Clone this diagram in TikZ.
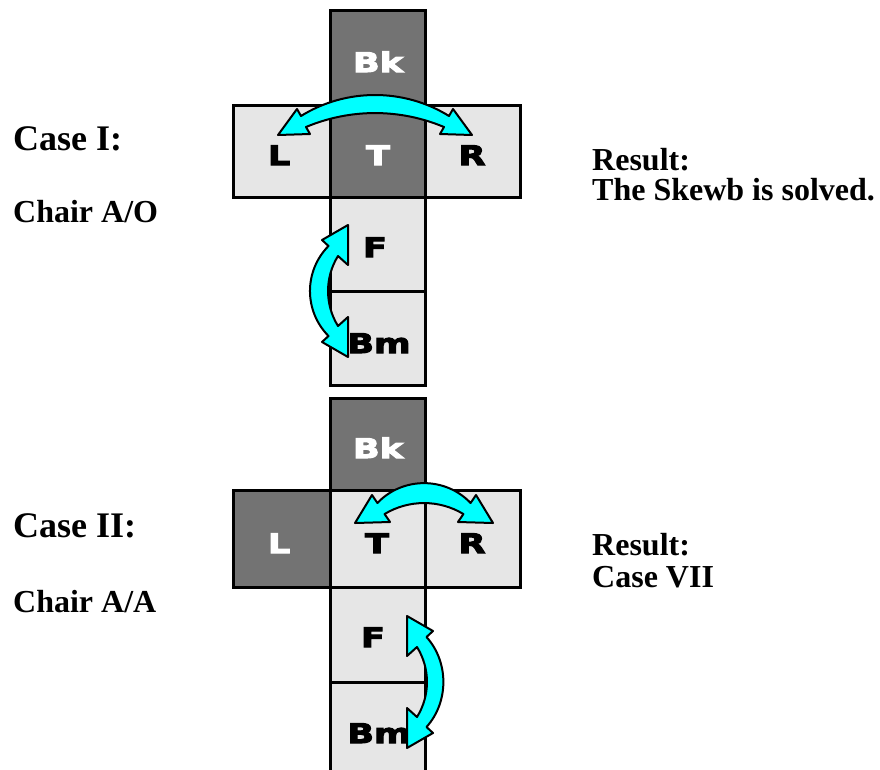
\documentclass[tikz,border=0pt]{standalone}
\usepackage{fontspec}
\setmainfont{Liberation Serif}
\newfontfamily\labfont{DejaVu Sans}[UprightFont={* Bold}, FakeStretch=1.3, FakeBold=4]
\definecolor{dk}{HTML}{737373}
\definecolor{lt}{HTML}{E6E6E6}
\definecolor{arrcyan}{HTML}{00FFFF}
\begin{document}
\begin{tikzpicture}[x=1pt,y=-1pt,
  cell/.style={rectangle, draw=black, line width=3pt, minimum width=95pt, inner sep=0pt, outer sep=0pt},
  darkcell/.style={cell, fill=dk},
  lightcell/.style={cell, fill=lt},
  labw/.style={font=\labfont\fontsize{27}{27}\selectfont, text=white, inner sep=0pt, anchor=base},
  labb/.style={labw, text=black},
  casetxt/.style={font=\bfseries\fontsize{36}{36}\selectfont, inner sep=0pt, anchor=base west},
  subtxt/.style={font=\bfseries\fontsize{32}{32}\selectfont, inner sep=0pt, anchor=base west},
  swaparrow/.style={fill=arrcyan, draw=black, line width=2pt, line join=round}
]
\useasboundingbox (0,0) rectangle (880,769);
\clip (0,0) rectangle (880,769);
\fill[white] (0,0) rectangle (880,769);

% ---------- Case I ----------
\node[darkcell, minimum height=95pt] (bkA) at (377.5,57.5) {};
\node[lightcell, minimum width=97pt, minimum height=92pt] (lA) at (281.5,151) {};
\node[darkcell, minimum height=92pt] (tA) at (377.5,151) {};
\node[lightcell, minimum height=92pt] (rA) at (472.5,151) {};
\node[lightcell, minimum height=94pt] (fA) at (377.5,244) {};
\node[lightcell, minimum height=94pt] (bmA) at (377.5,338) {};

\node[labw] (bkAt) at (378,72) {Bk};
\node[labb] (lAt) at (279,165) {L};
\node[labw] (tAt) at (378,165) {T};
\node[labb] (rAt) at (472,165) {R};
\node[labb] (fAt) at (375,257) {F};
\node[labb] (bmAt) at (379,353) {Bm};

\draw[swaparrow] (278,135) -- (297,109) -- (301,116)
  .. controls (346,88) and (404,88) .. (449,116) -- (453,109) -- (472,135)
  -- (440,134) -- (444,127)
  .. controls (399.5,108.4) and (350.5,108.4) .. (306,127) -- (310,134) -- cycle;

\draw[swaparrow] (348,225) -- (322,240) -- (328.5,246)
  .. controls (303.8,271) and (303.8,311) .. (328.5,336) -- (322,342) -- (348,357)
  -- (348,317) -- (338,326)
  .. controls (324.7,304.6) and (324.7,277.4) .. (338,256) -- (348,265) -- cycle;

\node[casetxt] (caseA) at (13,150) {Case I:};
\node[subtxt] (chairA) at (13,222) {Chair A/O};
\node[subtxt] (resA) at (592,170) {Result:};
\node[subtxt] (resAb) at (592,200) {The Skewb is solved.};

% ---------- Case II ----------
\node[darkcell, minimum height=92pt] (bkB) at (377.5,444) {};
\node[darkcell, minimum width=97pt, minimum height=97pt] (lB) at (281.5,538.5) {};
\node[lightcell, minimum height=97pt] (tB) at (377.5,538.5) {};
\node[lightcell, minimum height=97pt] (rB) at (472.5,538.5) {};
\node[lightcell, minimum height=95pt] (fB) at (377.5,634.5) {};
\node[lightcell, minimum height=94pt] (bmB) at (377.5,729) {};

\node[labw] (bkBt) at (378,458) {Bk};
\node[labw] (lBt) at (279,553) {L};
\node[labb] (tBt) at (377,553) {T};
\node[labb] (rBt) at (472,553) {R};
\node[labb] (fBt) at (373,647) {F};
\node[labb] (bmBt) at (379,743) {Bm};

\draw[swaparrow] (355,523) -- (372,495) -- (377.4,503)
  .. controls (402.6,476.5) and (445.4,476.5) .. (470.6,503) -- (476,495) -- (493,523)
  -- (458,522) -- (463.4,514)
  .. controls (439.1,499.4) and (408.9,499.4) .. (384.6,514) -- (390,522) -- cycle;

\draw[swaparrow] (407,616) -- (433,631) -- (426.5,637)
  .. controls (449,662) and (449,702) .. (426.5,727) -- (433,733) -- (407,748)
  -- (407,708) -- (417,717)
  .. controls (430.3,695.6) and (430.3,668.4) .. (417,647) -- (407,656) -- cycle;

\node[casetxt] (caseB) at (13,537) {Case II:};
\node[subtxt] (chairB) at (13,612) {Chair A/A};
\node[subtxt] (resB) at (592,555) {Result:};
\node[subtxt] (resBb) at (592,587) {Case VII};
\end{tikzpicture}
\end{document}
